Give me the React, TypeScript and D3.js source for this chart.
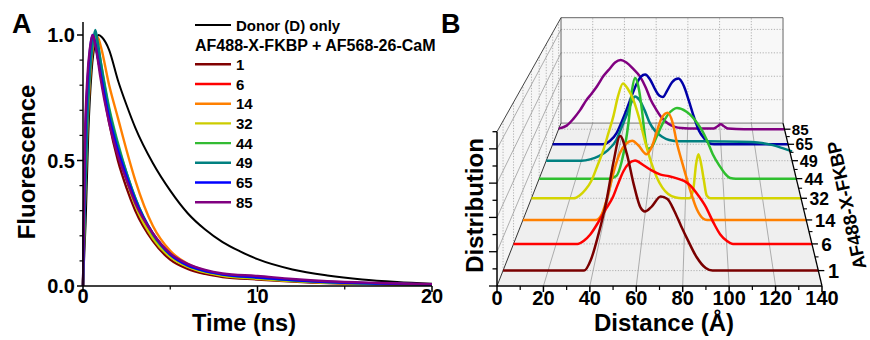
import React from 'react';
import * as d3 from 'd3';

const FONT = "'Liberation Sans', Arial, Helvetica, sans-serif";

// ---------------- Panel A : fluorescence decays ----------------
const A_TIME = [0, 0.1, 0.25, 0.4, 0.55, 0.7, 0.85, 1, 1.5, 2, 2.5, 3, 4, 5, 6, 7, 8, 10, 12, 14, 17, 20];
const A_S1 = [0, 0.45, 0.78, 0.92, 0.99, 0.97, 0.91, 0.85, 0.65, 0.5, 0.39, 0.3, 0.18, 0.105, 0.068, 0.048, 0.036, 0.026, 0.018, 0.012, 0.008, 0.005];
const A_S6 = [0, 0.38, 0.72, 0.89, 0.98, 0.99, 0.94, 0.88, 0.69, 0.55, 0.43, 0.33, 0.2, 0.12, 0.078, 0.055, 0.042, 0.03, 0.021, 0.014, 0.009, 0.006];
const A_S14 = [0, 0.3, 0.62, 0.82, 0.94, 0.99, 0.99, 0.96, 0.8, 0.67, 0.54, 0.42, 0.24, 0.14, 0.088, 0.061, 0.046, 0.032, 0.022, 0.015, 0.009, 0.006];
const A_S32 = [0, 0.4, 0.74, 0.9, 0.98, 0.99, 0.94, 0.88, 0.68, 0.54, 0.42, 0.32, 0.19, 0.115, 0.076, 0.054, 0.041, 0.029, 0.02, 0.013, 0.008, 0.005];
const A_S44 = [0, 0.35, 0.7, 0.88, 0.97, 1.0, 0.96, 0.9, 0.71, 0.57, 0.45, 0.35, 0.205, 0.124, 0.081, 0.058, 0.045, 0.033, 0.022, 0.015, 0.009, 0.006];
const A_S49 = [0, 0.3, 0.65, 0.85, 0.96, 1.02, 0.97, 0.9, 0.7, 0.56, 0.45, 0.35, 0.21, 0.128, 0.084, 0.06, 0.047, 0.035, 0.024, 0.016, 0.01, 0.006];
const A_S65 = [0, 0.5, 0.8, 0.94, 1.0, 0.97, 0.91, 0.85, 0.67, 0.54, 0.435, 0.34, 0.21, 0.125, 0.082, 0.059, 0.046, 0.034, 0.024, 0.016, 0.01, 0.006];
const A_S85 = [0, 0.55, 0.83, 0.95, 1.0, 0.96, 0.9, 0.83, 0.65, 0.52, 0.42, 0.33, 0.21, 0.13, 0.088, 0.064, 0.05, 0.04, 0.028, 0.019, 0.012, 0.007];
const DONOR_TIME = [0, 0.15, 0.3, 0.5, 0.7, 0.9, 1.1, 1.5, 2, 2.5, 3, 4, 5, 6, 7, 8, 9, 10, 12, 14, 16, 18, 20];
const DONOR_VALUES = [0, 0.25, 0.6, 0.86, 0.97, 1.0, 0.99, 0.94, 0.82, 0.72, 0.63, 0.49, 0.38, 0.29, 0.225, 0.175, 0.138, 0.107, 0.066, 0.042, 0.026, 0.016, 0.009];
const SAMPLE_LABELS = ['1', '6', '14', '32', '44', '49', '65', '85'];
const A_COLORS = ['#800000', '#ff0000', '#ff8000', '#cccc00', '#33bb33', '#008080', '#0000ff', '#800080'];
const A_Y_TICKS = [0, 0.5, 1.0];
const A_Y_MINOR = [0.1, 0.2, 0.3, 0.4, 0.6, 0.7, 0.8, 0.9];
const A_X_TICKS = [0, 10, 20];
const A_X_MINOR = [5, 15];

// ---------------- Panel B : distance distributions (waterfall) ----------------
const B_COLORS = ['#7a0000', '#ff0000', '#ff8000', '#d4d400', '#2fbf2f', '#008080', '#0000a8', '#800080'];
const B_S1 = [[0, 0], [36, 0], [39, 0.65], [42, 2.0], [46, 4.25], [49, 6.5], [52, 8.1], [55, 7.0], [58, 5.2], [61, 3.8], [63, 3.55], [66, 3.85], [70, 4.45], [73, 4.3], [76, 3.6], [79, 2.7], [82, 1.85], [86, 0.8], [90, 0.15], [93, 0], [140, 0]];
const B_S6 = [[0, 0], [30, 0], [33, 0.2], [36, 0.6], [40.6, 1.57], [43.5, 2.25], [46.8, 3.03], [49, 3.8], [51.5, 4.6], [54, 5.1], [57, 5.3], [61, 5.0], [65, 4.65], [69, 4.4], [73, 4.3], [77, 4.15], [80, 4.0], [83, 3.7], [86, 3.2], [90, 2.4], [94, 1.3], [97, 0.6], [100, 0.2], [103, 0], [140, 0]];
const B_S14 = [[0, 0], [36, 0], [39, 0.4], [41.5, 1.4], [44.8, 3.2], [48, 4.5], [51, 5.1], [54, 5.3], [57, 5.0], [61, 4.4], [64, 5.0], [66, 5.85], [68.5, 6.8], [71.5, 7.18], [74, 6.5], [76, 5.2], [79, 3.7], [82.5, 2.07], [86, 0.7], [89, 0.1], [91, 0], [140, 0]];
const B_S32 = [[0, 0], [22, 0], [25, 0.2], [28, 0.6], [31, 1.2], [34, 2.2], [37.5, 3.46], [40, 4.6], [42.6, 5.8], [45, 7.2], [47.5, 8.07], [50, 7.7], [53, 6.9], [56, 5.6], [59, 4.0], [62, 2.6], [65, 1.5], [68, 0.75], [71, 0.3], [75, 0.05], [78, 0], [82, 0], [84, 0.6], [85.5, 2.4], [86.7, 3.1], [88, 2.5], [89.5, 1.3], [91, 0.2], [93, 0], [140, 0]];
const B_S44 = [[0, 0], [38, 0], [42, 0.2], [45, 1.3], [48.6, 4.1], [50.5, 6.5], [52.2, 7.42], [54, 6.8], [56, 5.0], [57.5, 3.2], [59, 2.2], [61, 2.3], [64, 3.1], [67, 4.0], [70, 4.7], [73, 5.1], [75, 5.2], [80, 4.95], [83, 4.6], [86, 4.1], [88.5, 3.6], [91.2, 2.87], [94.5, 1.8], [98.4, 0.9], [101, 0.4], [104, 0.05], [107, 0], [140, 0]];
const B_S49 = [[0, 0], [20, 0], [25, 0.1], [30, 0.35], [35, 0.8], [40, 1.62], [43, 2.6], [46, 3.6], [48.5, 4.5], [50.6, 4.95], [53, 4.7], [56, 3.9], [59, 2.9], [62, 2.3], [66, 1.85], [70, 1.6], [76, 1.5], [85, 1.5], [100, 1.49], [117, 1.45], [129, 1.2], [135, 0.95], [140, 0.72]];
const B_S65 = [[0, 0], [30, 0], [34, 0.27], [38, 0.9], [41, 1.8], [44, 2.81], [47, 3.9], [50, 4.9], [52.5, 5.45], [55, 5.62], [58, 5.2], [61, 4.4], [63.5, 3.9], [65.5, 3.8], [68, 4.3], [71, 5.0], [74.8, 5.3], [78, 4.7], [81, 3.5], [84, 2.2], [87, 1.1], [90, 0.5], [93, 0.1], [96, 0], [140, 0]];
const B_S85 = [[0, 0.05], [5, 0.3], [9, 0.85], [13.3, 1.6], [17, 2.4], [20.5, 3.0], [23.6, 3.57], [28, 4.5], [31.9, 5.12], [35, 5.6], [38.5, 5.81], [42, 5.6], [46, 5.1], [50.5, 4.41], [54, 3.5], [57, 2.5], [60.5, 1.65], [64, 0.95], [68, 0.45], [72, 0.2], [76, 0.1], [85, 0.05], [96, 0.05], [98.5, 0.25], [100.5, 0.41], [102.5, 0.25], [105, 0.05], [115, 0], [140, 0]];
const B_X_TICKS = [0, 20, 40, 60, 80, 100, 120, 140];
const B_X_MINOR = [10, 30, 50, 70, 90, 110, 130];
const B_H_TICKS = [0, 1, 2, 3, 4, 5, 6, 7, 8, 9];
const B_GRID_H = [2, 4, 6, 8];
const B_GRID_D = [20, 40, 60, 80, 100, 120];

export default function App() {
  // ----- Panel A scales -----
  const xA = d3.scaleLinear().domain([0, 20]).range([83, 432]);
  const yA = d3.scaleLinear().domain([0, 1]).range([286, 35]);
  const lineA = d3
    .line<number[]>()
    .x((d) => xA(d[0]))
    .y((d) => yA(d[1]))
    .curve(d3.curveMonotoneX);
  const accSeries = [A_S1, A_S6, A_S14, A_S32, A_S44, A_S49, A_S65, A_S85].map((vals) =>
    vals.map((v, k) => [A_TIME[k], v])
  );
  const donor = DONOR_VALUES.map((v, k) => [DONOR_TIME[k], v]);

  // ----- Panel B projection -----
  const VX = 699;
  const VY = -228;
  const FLOOR_Y = 286;
  const xF = d3.scaleLinear().domain([0, 140]).range([497, 822]);
  const hF = d3.scaleLinear().domain([0, 9]).range([0, 154.3]);
  const zS = d3.scaleLinear().domain([-0.53, 7.43]).range([0, 0.464]);
  const sAt = (depth: number) => 1 / (1 + zS(depth));
  const sFront = 1;
  const sBack = sAt(7.43);
  const P = (d: number, h: number, s: number): [number, number] => [
    VX + (xF(d) - VX) * s,
    VY + (FLOOR_Y - VY) * s - hF(h) * s,
  ];
  const poly = (pts: [number, number][]) => pts.map((p) => p.join(',')).join(' ');
  const seg = (a: [number, number], b: [number, number], props: any, key: string) => (
    <line key={key} x1={a[0]} y1={a[1]} x2={b[0]} y2={b[1]} {...props} />
  );
  const bSeries = [B_S1, B_S6, B_S14, B_S32, B_S44, B_S49, B_S65, B_S85];
  const depthS = bSeries.map((_, i) => sAt(i));

  const dotted = { stroke: '#a0a0a0', strokeWidth: 0.8, strokeDasharray: '1.2,1.6' };
  const solidGrid = { stroke: '#9a9a9a', strokeWidth: 0.8 };

  const boldText = { fontFamily: FONT, fontWeight: 700, fill: '#000' } as const;

  return (
    <svg
      width={870}
      height={340}
      viewBox="0 0 870 340"
      style={{ position: 'absolute', left: 0, top: 0, background: '#fff' }}
    >
      <rect x={0} y={0} width={870} height={340} fill="#fff" />

      {/* ================= Panel A ================= */}
      <g>
        <path d={lineA(donor) || ''} fill="none" stroke="#000" strokeWidth={2} />
        {accSeries.map((s, i) => (
          <path key={'a' + i} d={lineA(s) || ''} fill="none" stroke={A_COLORS[i]} strokeWidth={2.4} />
        ))}
        {/* axes */}
        <line x1={83} y1={286} x2={83} y2={22} stroke="#000" strokeWidth={1.5} />
        <line x1={83} y1={286} x2={432} y2={286} stroke="#000" strokeWidth={1.5} />
        {A_Y_TICKS.map((v) => (
          <g key={'yt' + v}>
            <line x1={77} x2={83} y1={yA(v)} y2={yA(v)} stroke="#000" strokeWidth={1.5} />
            <text x={75} y={yA(v) + 7} textAnchor="end" fontSize={20} {...boldText}>
              {v.toFixed(1)}
            </text>
          </g>
        ))}
        {A_Y_MINOR.map((v) => (
          <line key={'ym' + v} x1={79.5} x2={83} y1={yA(v)} y2={yA(v)} stroke="#000" strokeWidth={1.2} />
        ))}
        {A_X_TICKS.map((v) => (
          <g key={'xt' + v}>
            <line x1={xA(v)} x2={xA(v)} y1={286} y2={292} stroke="#000" strokeWidth={1.5} />
            <text x={xA(v)} y={303} textAnchor="middle" fontSize={20} {...boldText}>
              {v}
            </text>
          </g>
        ))}
        {A_X_MINOR.map((v) => (
          <line key={'xm' + v} x1={xA(v)} x2={xA(v)} y1={286} y2={289.5} stroke="#000" strokeWidth={1.2} />
        ))}
        <text x={244} y={331} textAnchor="middle" fontSize={23.5} {...boldText}>
          Time (ns)
        </text>
        <text transform="translate(35,162) rotate(-90)" textAnchor="middle" fontSize={24} {...boldText}>
          Fluorescence
        </text>
        <text x={12} y={33} fontSize={27} {...boldText}>
          A
        </text>
        {/* legend */}
        <line x1={195} x2={231} y1={25} y2={25} stroke="#000" strokeWidth={2} />
        <text x={236} y={30.5} fontSize={15} {...boldText}>
          Donor (D) only
        </text>
        <text x={195} y={50.5} fontSize={16} {...boldText}>
          AF488-X-FKBP + AF568-26-CaM
        </text>
        {SAMPLE_LABELS.map((lab, i) => {
          const y = 64.3 + i * 19.7;
          return (
            <g key={'lg' + i}>
              <line x1={195} x2={231} y1={y} y2={y} stroke={A_COLORS[i]} strokeWidth={2.4} />
              <text x={236} y={y + 5.5} fontSize={15} {...boldText}>
                {lab}
              </text>
            </g>
          );
        })}
      </g>

      {/* ================= Panel B ================= */}
      <g>
        {/* walls */}
        <polygon points={poly([P(0, 0, sFront), P(140, 0, sFront), P(140, 0, sBack), P(0, 0, sBack)])} fill="#efefef" />
        <polygon points={poly([P(0, 0, sBack), P(140, 0, sBack), P(140, 9, sBack), P(0, 9, sBack)])} fill="#f8f8f8" />
        <polygon points={poly([P(0, 0, sFront), P(0, 0, sBack), P(0, 9, sBack), P(0, 9, sFront)])} fill="#f6f6f6" />

        {/* floor grid */}
        {B_GRID_D.map((d) => seg(P(d, 0, sFront), P(d, 0, sBack), solidGrid, 'fg' + d))}
        {depthS.map((s, i) => seg(P(0, 0, s), P(140, 0, s), dotted, 'fd' + i))}
        {/* back wall grid */}
        {B_GRID_D.map((d) => seg(P(d, 0, sBack), P(d, 9, sBack), dotted, 'bv' + d))}
        {B_GRID_H.map((h) => seg(P(0, h, sBack), P(140, h, sBack), dotted, 'bh' + h))}
        {/* left wall grid */}
        {B_GRID_H.map((h) => seg(P(0, h, sFront), P(0, h, sBack), solidGrid, 'lh' + h))}
        {depthS.map((s, i) => seg(P(0, 0, s), P(0, 9, s), dotted, 'lv' + i))}

        {/* box edges */}
        {seg(P(0, 9, sBack), P(140, 9, sBack), { stroke: '#666', strokeWidth: 1 }, 'e1')}
        {seg(P(140, 9, sBack), P(140, 0, sBack), { stroke: '#666', strokeWidth: 1 }, 'e2')}
        {seg(P(0, 0, sBack), P(140, 0, sBack), { stroke: '#777', strokeWidth: 1 }, 'e3')}
        {seg(P(0, 0, sBack), P(0, 9, sBack), { stroke: '#666', strokeWidth: 1 }, 'e4')}
        {seg(P(0, 9, sFront), P(0, 9, sBack), { stroke: '#444', strokeWidth: 1 }, 'e5')}
        {seg(P(0, 0, sFront), P(0, 0, sBack), { stroke: '#333', strokeWidth: 1 }, 'e6')}

        {/* series, back to front */}
        {bSeries
          .map((data, i) => ({ data, i }))
          .reverse()
          .map(({ data, i }) => {
            const s = depthS[i];
            const gen = d3
              .line<number[]>()
              .x((p) => P(p[0], p[1], s)[0])
              .y((p) => P(p[0], p[1], s)[1])
              .curve(d3.curveMonotoneX);
            return <path key={'b' + i} d={gen(data) || ''} fill="none" stroke={B_COLORS[i]} strokeWidth={2.5} />;
          })}

        {/* axes */}
        {seg(P(0, 0, sFront), P(140, 0, sFront), { stroke: '#000', strokeWidth: 1.5 }, 'ax1')}
        {seg(P(0, 0, sFront), P(0, 9, sFront), { stroke: '#000', strokeWidth: 1.5 }, 'ax2')}
        {seg(P(140, 0, sFront), P(140, 0, sBack), { stroke: '#000', strokeWidth: 1.3 }, 'ax3')}

        {B_X_TICKS.map((d) => {
          const [x, y] = P(d, 0, sFront);
          return (
            <g key={'bxt' + d}>
              <line x1={x} x2={x} y1={y} y2={y + 6} stroke="#000" strokeWidth={1.5} />
              <text x={x} y={305} textAnchor="middle" fontSize={20} {...boldText}>
                {d}
              </text>
            </g>
          );
        })}
        {B_X_MINOR.map((d) => {
          const [x, y] = P(d, 0, sFront);
          return <line key={'bxm' + d} x1={x} x2={x} y1={y} y2={y + 4} stroke="#000" strokeWidth={1.2} />;
        })}
        {B_H_TICKS.map((h) => {
          const [x, y] = P(0, h, sFront);
          const len = h % 2 === 0 ? 8 : 4.5;
          return <line key={'bht' + h} x1={x - len} x2={x} y1={y} y2={y} stroke="#000" strokeWidth={1.3} />;
        })}
        {depthS.map((s, i) => {
          const [x, y] = P(140, 0, s);
          const fs = 17.5 * s + 3;
          return (
            <g key={'bdt' + i}>
              <line x1={x} x2={x + 6} y1={y} y2={y} stroke="#000" strokeWidth={1.3} />
              <text x={x + 9 * s + 1} y={y + fs * 0.36} fontSize={fs} {...boldText}>
                {SAMPLE_LABELS[i]}
              </text>
            </g>
          );
        })}
        {depthS.slice(0, -1).map((s, i) => {
          const sm = sAt(i + 0.5);
          const [x, y] = P(140, 0, sm);
          return <line key={'bdm' + i} x1={x} x2={x + 3.5} y1={y} y2={y} stroke="#000" strokeWidth={1.1} />;
        })}

        <text x={664} y={331} textAnchor="middle" fontSize={24} {...boldText}>
          Distance (Å)
        </text>
        <text transform="translate(483,205.5) rotate(-90)" textAnchor="middle" fontSize={24} {...boldText}>
          Distribution
        </text>
        <text transform="translate(853,204) rotate(-102)" textAnchor="middle" fontSize={18.5} {...boldText}>
          AF488-X-FKBP
        </text>
        <text x={441} y={33} fontSize={27} {...boldText}>
          B
        </text>
      </g>
    </svg>
  );
}
